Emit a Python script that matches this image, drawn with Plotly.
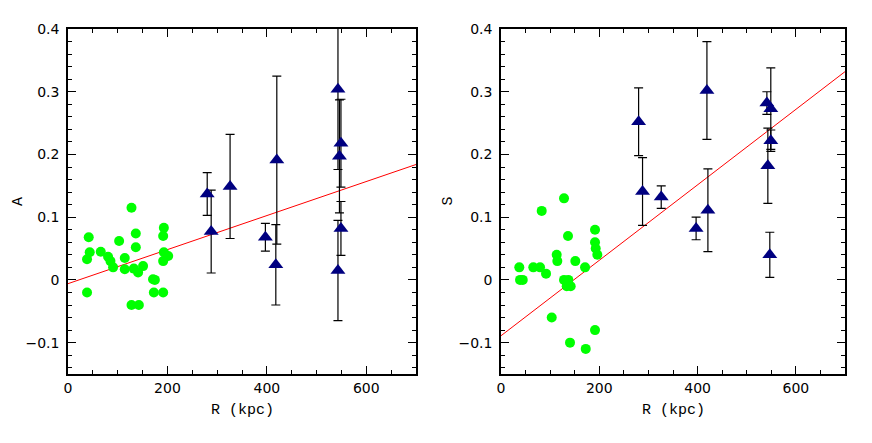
import plotly.graph_objects as go

# ---- Left panel (A) data ----
R_green_A = [41.7, 43.7, 38.3, 38.3, 65.9, 80.6, 85.4, 90.7, 102.8, 114.2, 114.2, 127.7,
             136.4, 136.4, 132.4, 141.0, 151.0, 127.7, 142.5, 171.0, 174.7, 172.7, 191.4,
             192.8, 191.4, 192.8, 201.5, 191.4]
A_green = [0.068, 0.044, 0.033, -0.020, 0.045, 0.037, 0.030, 0.020, 0.062, 0.035, 0.017, 0.115,
           0.074, 0.052, 0.018, 0.012, 0.022, -0.040, -0.040, 0.001, 0.0, -0.020, -0.020,
           0.083, 0.070, 0.044, 0.038, 0.030]

R_tri_A = [280, 288, 326, 397, 420, 418, 543, 549, 546, 549, 543]
A_tri = [0.137, 0.077, 0.149, 0.068, 0.191, 0.024, 0.304, 0.218, 0.197, 0.082, 0.015]
A_err = [0.034, 0.066, 0.083, 0.022, 0.134, 0.064, 0.128, 0.070, 0.090, 0.043, 0.080]

A_fit_R = [0, 700]
A_fit = [-0.006, 0.184]

# ---- Right panel (S) data ----
R_green_S = [128.2, 82.8, 136.3, 191.3, 191.3, 192.7, 196.0, 113.3, 114.6, 151.2, 37.2, 65.7,
             79.4, 91.6, 171.0, 38.7, 44.2, 128.2, 137.0, 133.7, 141.8, 103.2, 191.3, 140.4, 172.4]
S_green = [0.13, 0.11, 0.07, 0.08, 0.06, 0.05, 0.04, 0.04, 0.03, 0.03, 0.02, 0.02,
           0.02, 0.01, 0.02, 0.0, 0.0, 0.0, 0.0, -0.01, -0.01, -0.06, -0.08, -0.10, -0.11]

R_tri_S = [280, 288, 326, 397, 419, 421, 541, 549, 549, 543, 547]
S_tri = [0.252, 0.141, 0.132, 0.082, 0.302, 0.111, 0.282, 0.273, 0.222, 0.182, 0.040]
S_err = [0.054, 0.054, 0.018, 0.018, 0.078, 0.066, 0.018, 0.065, 0.017, 0.060, 0.036]

S_fit_R = [0, 700]
S_fit = [-0.089, 0.332]

x_ticks = [0, 200, 400, 600]
y_ticks = [-0.1, 0, 0.1, 0.2, 0.3, 0.4]
y_ticktext = ["\u22120.1", "0", "0.1", "0.2", "0.3", "0.4"]

GREEN = "#00ff00"
NAVY = "#000080"

fig = go.Figure()

def add_panel(xa, ya, Rg, Vg, Rt, Vt, Et, Rf, Vf):
    fig.add_trace(go.Scatter(x=Rf, y=Vf, mode="lines", line=dict(color="red", width=1),
                             xaxis=xa, yaxis=ya, showlegend=False, hoverinfo="skip"))
    fig.add_trace(go.Scatter(x=Rg, y=Vg, mode="markers",
                             marker=dict(color=GREEN, size=10, line=dict(width=0)),
                             xaxis=xa, yaxis=ya, showlegend=False))
    fig.add_trace(go.Scatter(x=Rt, y=Vt, mode="markers",
                             marker=dict(color=NAVY, size=13, symbol="triangle-up", line=dict(width=0)),
                             error_y=dict(type="data", array=Et, visible=True, color="black",
                                          thickness=1.2, width=4.5),
                             xaxis=xa, yaxis=ya, showlegend=False))

add_panel("x", "y", R_green_A, A_green, R_tri_A, A_tri, A_err, A_fit_R, A_fit)
add_panel("x2", "y2", R_green_S, S_green, R_tri_S, S_tri, S_err, S_fit_R, S_fit)

tickfont = dict(family="DejaVu Sans, sans-serif", size=14, color="black")
xax = dict(range=[0, 700], tickvals=x_ticks, ticks="inside", ticklen=8, tickwidth=1.2,
           tickcolor="black", showline=True, linecolor="black", linewidth=1.5, mirror="ticks",
           showgrid=False, zeroline=False, tickfont=tickfont, ticklabelstandoff=0,
           minor=dict(dtick=50, ticks="inside", ticklen=4, tickwidth=1, tickcolor="black", showgrid=False))
yax = dict(range=[-0.15, 0.4], tickvals=y_ticks, ticktext=y_ticktext,
           ticks="inside", ticklen=8, tickwidth=1.2,
           tickcolor="black", showline=True, linecolor="black", linewidth=1.5, mirror="ticks",
           showgrid=False, zeroline=False, tickfont=tickfont, ticklabelstandoff=4,
           minor=dict(dtick=0.02, tick0=0, ticks="inside", ticklen=4, tickwidth=1, tickcolor="black", showgrid=False))

titlefont = dict(family="Liberation Mono, Courier New, monospace", size=15, color="black")

fig.update_layout(
    width=872, height=443,
    margin=dict(l=60, r=35, t=21, b=77),
    paper_bgcolor="white", plot_bgcolor="white",
    xaxis=dict(domain=[0, 0.4479], anchor="y", **xax),
    yaxis=dict(domain=[0, 1], anchor="x", **yax),
    xaxis2=dict(domain=[0.5573, 1], anchor="y2", **xax),
    yaxis2=dict(domain=[0, 1], anchor="x2", **yax),
    annotations=[
        dict(text="R (kpc)", x=0.5, y=-0.107, xref="x domain", yref="paper", showarrow=False,
             xanchor="center", yanchor="middle", font=titlefont),
        dict(text="R (kpc)", x=0.5, y=-0.107, xref="x2 domain", yref="paper", showarrow=False,
             xanchor="center", yanchor="middle", font=titlefont),
        dict(text="A", x=-0.0772, y=0.5, xref="paper", yref="paper", showarrow=False,
             xanchor="left", yanchor="middle", textangle=-90, font=titlefont),
        dict(text="S", x=-0.154, y=0.5, xref="x2 domain", yref="paper", showarrow=False,
             xanchor="center", yanchor="middle", textangle=-90, font=titlefont),
    ],
)

fig.write_html("out.html")
